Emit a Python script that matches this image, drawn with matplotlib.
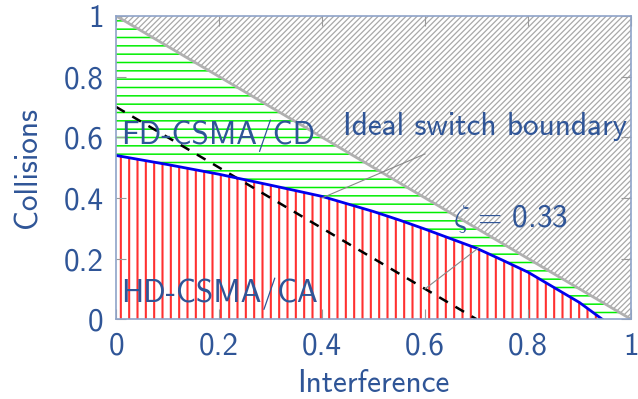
import matplotlib
matplotlib.use("Agg")
import matplotlib.pyplot as plt
import numpy as np

# blue boundary
blue_x = [0.0, 0.1, 0.2, 0.3, 0.4, 0.5, 0.55, 0.6, 0.7, 0.75, 0.8, 0.85, 0.9, 0.944]
blue_y = [0.54, 0.51, 0.478, 0.442, 0.405, 0.355, 0.327, 0.297, 0.234, 0.195, 0.155, 0.105, 0.055, 0.0]

ideal_x = [0.0, 1.0]
ideal_y = [1.0, 0.0]

zeta_x = [0.0, 0.7]
zeta_y = [0.7, 0.0]

ticks = [0, 0.2, 0.4, 0.6, 0.8, 1]
tick_labels = ['0', '0.2', '0.4', '0.6', '0.8', '1']

txt_col = '#2f5597'
plt.rcParams['font.family'] = ['cmss10', 'DejaVu Sans']
plt.rcParams['mathtext.fontset'] = 'cm'
plt.rcParams['axes.unicode_minus'] = False
plt.rcParams['hatch.linewidth'] = 0.9

fig = plt.figure(figsize=(6.38, 3.99), dpi=100)
ax = fig.add_axes([0.182, 0.2, 0.807, 0.76])

xx = np.linspace(0, 1, 501)
by = np.interp(xx, blue_x, blue_y, right=0.0)
iy = np.interp(xx, ideal_x, ideal_y)

# regions
ax.fill_between(xx, iy, 1.0, facecolor='none', edgecolor='#a8a8a8', linewidth=0, hatch='//////')
with plt.rc_context({'hatch.linewidth': 1.1}):
    ax.fill_between(xx, by, iy, facecolor='none', edgecolor='#00ee00', linewidth=0, hatch='--')
with plt.rc_context({'hatch.linewidth': 1.5}):
    ax.fill_between(xx, 0, by, where=xx <= blue_x[-1], facecolor='none', edgecolor='#ff3030',
                    linewidth=0, hatch='||')

ax.plot(ideal_x, ideal_y, color='#b0b0b0', lw=2.0)
ax.plot(zeta_x, zeta_y, color='black', lw=1.8, dashes=(4, 3.5))
ax.plot(blue_x, blue_y, color='#0000ee', lw=2.0)

# annotations
ax.plot([0.40, 0.60], [0.40, 0.545], color='#888888', lw=0.8)
ax.plot([0.60, 0.703], [0.10, 0.234], color='#888888', lw=0.8)

fs = 22.5
ax.text(0.01, 0.605, 'FD-CSMA/CD', color=txt_col, fontsize=fs, va='center', ha='left')
ax.text(0.01, 0.083, 'HD-CSMA/CA', color=txt_col, fontsize=fs, va='center', ha='left')
ax.text(0.44, 0.637, 'Ideal switch boundary', color=txt_col, fontsize=fs, va='center', ha='left',
        clip_on=False)
ax.text(0.655, 0.333, r'$\zeta$ = 0.33', color=txt_col, fontsize=fs, va='center', ha='left')

ax.set_xlim(0, 1)
ax.set_ylim(0, 1)
ax.set_xticks(ticks)
ax.set_xticklabels(tick_labels)
ax.set_yticks(ticks)
ax.set_yticklabels(tick_labels)
ax.tick_params(direction='in', top=True, right=True, length=7, color='#999999',
               labelsize=fs, labelcolor=txt_col, pad=9)
for s in ax.spines.values():
    s.set_color('#8fa3c8')
    s.set_linewidth(1.2)

ax.set_xlabel('Interference', color=txt_col, fontsize=fs, labelpad=6)
ax.set_ylabel('Collisions', color=txt_col, fontsize=fs, labelpad=15)

fig.savefig('out.png', dpi=100)
